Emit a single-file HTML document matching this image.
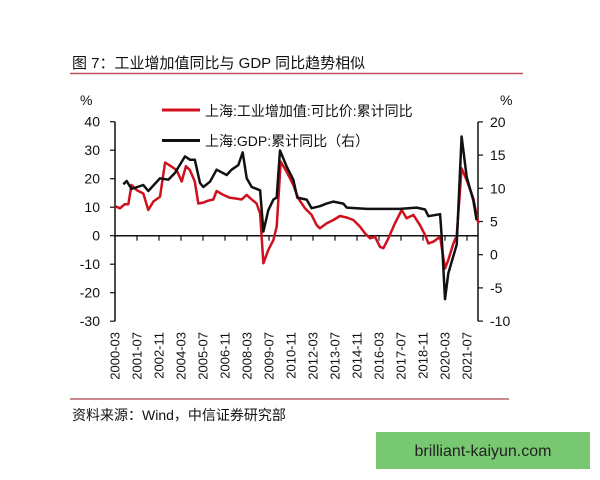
<!DOCTYPE html>
<html><head><meta charset="utf-8"><style>
body{margin:0;width:600px;height:480px;background:#fff;overflow:hidden;font-family:"Liberation Sans","Noto Sans CJK SC",sans-serif}
svg{position:absolute;left:0;top:0}
text{font-family:"Liberation Sans","Noto Sans CJK SC",sans-serif}
</style></head><body>
<svg id="c" width="600" height="480">
<text x="72" y="68" font-size="15" fill="#111">图 7：工业增加值同比与 GDP 同比趋势相似</text>
<line x1="70" y1="73.5" x2="523" y2="73.5" stroke="#c0505a" stroke-width="1.5"/>
<text x="80" y="105" font-size="14" fill="#111">%</text>
<text x="500" y="105" font-size="14" fill="#111">%</text>
<g>
<line x1="162" y1="110" x2="200" y2="110" stroke="#d0101e" stroke-width="3"/>
<text x="205" y="116" font-size="14" fill="#111">上海:工业增加值:可比价:累计同比</text>
<line x1="162" y1="140.5" x2="200" y2="140.5" stroke="#111" stroke-width="3"/>
<text x="205" y="146" font-size="14" fill="#111">上海:GDP:累计同比（右）</text>
</g>
<g id="axes"></g>
<g id="series"></g>
<line x1="70" y1="399" x2="509" y2="399" stroke="#c98a90" stroke-width="2"/>
<text x="72" y="420" font-size="14" fill="#111">资料来源：Wind，中信证券研究部</text>
<rect x="376" y="432" width="214" height="37" fill="#77c870"/>
<text x="483" y="456" font-size="16" fill="#222" text-anchor="middle">brilliant-kaiyun.com</text>
</svg>
<script>
const xTickLabels=["2000-03","2001-07","2002-11","2004-03","2005-07","2006-11","2008-03","2009-07","2010-11","2012-03","2013-07","2014-11","2016-03","2017-07","2018-11","2020-03","2021-07"];
const leftTicks=[40,30,20,10,0,-10,-20,-30];
const rightTicks=[20,15,10,5,0,-5,-10];
const indMonths=[0,3.6,7,9.7,12,15.8,20.6,24.2,27.9,32.7,36.4,41.2,44.8,48.5,51.6,54.5,58,60.6,64.2,67.9,71.5,73.9,78.8,83.6,88.5,92.1,95.8,99.4,103,105.5,107.9,111.5,115.2,117.6,120.5,124.8,129.7,133.3,138.2,143,146.7,149,153.9,158.8,163.6,168.5,173.3,178.2,181.8,185.5,189.1,192.7,195.2,198.8,203.6,208.5,212.1,217,221.8,225.5,227.9,231.5,236.4,240,242.4,246.1,248.5,252.1,255.8,260.6,264.2];
const indValues=[10.4,9.6,11,11,17.8,16,14.8,9,12,13.7,25.7,24.2,23,19,24.4,23,19,11.3,11.6,12.3,12.7,15.7,14.3,13.3,13,12.7,14.3,12.7,11.3,7.8,-9.7,-5,-1.5,3.2,26,22.5,17.8,13.1,9.6,7.3,3.7,2.6,4.3,5.5,6.9,6.4,5.5,3.2,0.8,-0.9,-0.4,-3.9,-4.4,-0.9,4.3,9,6.1,7.3,3.7,0.2,-2.7,-2.1,-0.4,-11.5,-8.5,-2.7,0,23.6,19.5,13.1,4.3];
const gdpMonths=[6,8.5,12,20.6,24.2,32.7,38.8,43.6,50.9,54.5,58,61.8,64.2,69.1,73.9,81.2,84.8,89.7,92.9,95.8,99.4,105.5,107.9,111.5,115.2,117.6,120,124.8,129.7,132.6,139.4,143,149,153.9,158.8,166,168.5,183,207.3,219.4,225.5,227.9,236.4,237.6,240,242.4,248.5,252.1,255.8,260.6,263];
const gdpValues=[10.6,11.1,9.9,10.5,9.6,11.5,11.3,12.3,14.8,14.3,14.3,10.8,10.2,11,12.8,12,12.8,13.5,15.4,11.5,10.2,9.7,3.5,6.7,8.3,8.6,15.7,13.3,11.3,8.6,8.3,7,7.3,7.7,8,7.7,7.1,6.9,6.9,7.1,6.8,5.8,6.1,2.7,-6.7,-2.8,1.5,17.8,11.7,8.2,5.2];

const X0=115,X1=478,NM=264;
const xs=m=>X0+m*(X1-X0)/NM;
const yL=v=>235.7-v*2.85;
const yR=v=>254.7-v*6.64;
const NS="http://www.w3.org/2000/svg";
function mk(tag,attrs,parent){const e=document.createElementNS(NS,tag);for(const k in attrs)e.setAttribute(k,attrs[k]);parent.appendChild(e);return e;}
const ax=document.getElementById('axes');
let e;
e=mk('line',{x1:X0,y1:yL(40),x2:X0,y2:yL(-30),stroke:'#111','stroke-width':1.5},ax);


e=mk('line',{x1:X1,y1:yR(20),x2:X1,y2:yR(-10),stroke:'#111','stroke-width':1.5},ax);


e=mk('line',{x1:X0,y1:yL(0),x2:X1,y2:yL(0),stroke:'#111','stroke-width':1.5},ax);


leftTicks.forEach(v=>{
  mk('line',{x1:X0-5,y1:yL(v),x2:X0,y2:yL(v),stroke:'#111','stroke-width':1.2},ax);
  const t=mk('text',{x:100,y:yL(v)+5,'font-size':14,'text-anchor':'end',fill:'#111'},ax);
  t.textContent=v;
  
  
});
rightTicks.forEach(v=>{
  mk('line',{x1:X1,y1:yR(v),x2:X1+5,y2:yR(v),stroke:'#111','stroke-width':1.2},ax);
  const t=mk('text',{x:490,y:yR(v)+5,'font-size':14,fill:'#111'},ax);
  t.textContent=v;
  
  
});
xTickLabels.forEach((lab,i)=>{
  const x=xs(i*16);
  mk('line',{x1:x,y1:yL(0),x2:x,y2:yL(0)+5,stroke:'#111','stroke-width':1.2},ax);
  const t=mk('text',{x:0,y:0,'font-size':13,'text-anchor':'end',fill:'#111',transform:`translate(${x+4.5},332) rotate(-90)`},ax);
  t.textContent=lab;
  
  
});
const sg=document.getElementById('series');
const redPts=indMonths.map((m,i)=>xs(m).toFixed(1)+','+yL(indValues[i]).toFixed(1)).join(' ');
e=mk('polyline',{points:redPts,fill:'none',stroke:'#d0101e','stroke-width':2.5,'stroke-linejoin':'round'},sg);


const blkPts=gdpMonths.map((m,i)=>xs(m).toFixed(1)+','+yR(gdpValues[i]).toFixed(1)).join(' ');
e=mk('polyline',{points:blkPts,fill:'none',stroke:'#111','stroke-width':2.5,'stroke-linejoin':'round'},sg);


</script>
</body></html>
